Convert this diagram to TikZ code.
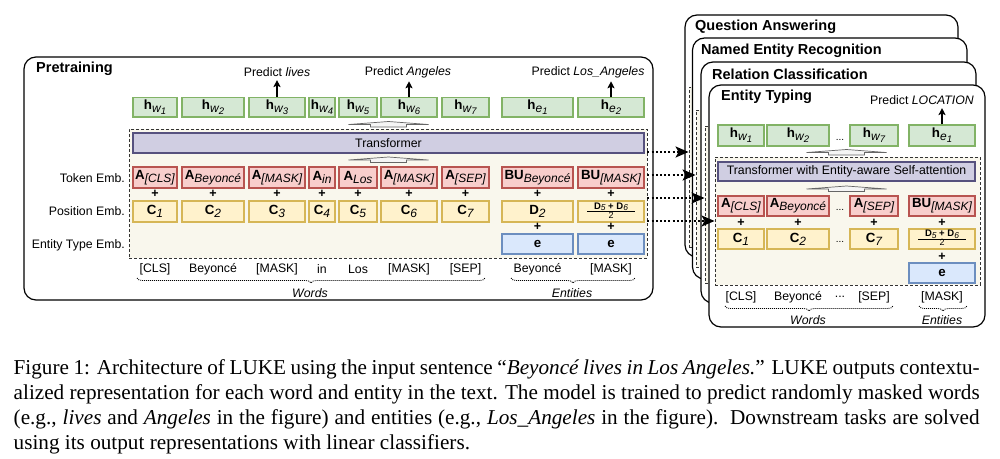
\documentclass[tikz,border=0pt]{standalone}
\usepackage{fontspec}
\setmainfont{Liberation Sans}
\newfontfamily\capfont{Liberation Serif}
\usetikzlibrary{arrows.meta,decorations.pathreplacing}
\definecolor{gfill}{HTML}{D5E8D4}\definecolor{gline}{HTML}{82B366}
\definecolor{rfill}{HTML}{F8CECC}\definecolor{rline}{HTML}{B85450}
\definecolor{yfill}{HTML}{FFF2CC}\definecolor{yline}{HTML}{D6B656}
\definecolor{bfill}{HTML}{DAE8FC}\definecolor{bline}{HTML}{6C8EBF}
\definecolor{pfill}{HTML}{D0CEE2}\definecolor{pline}{HTML}{56517E}
\definecolor{beige}{HTML}{F9F7ED}
\newcommand{\mainsz}{\fontsize{13.3}{15}\selectfont}
\newcommand{\subsz}{\fontsize{12}{13}\selectfont}
\newcommand{\sssz}{\fontsize{9.5}{10}\selectfont}
\newcommand{\lblsz}{\fontsize{12.3}{14}\selectfont}
\newcommand{\hvec}[2]{{\bfseries h}\raisebox{-3pt}{\subsz\itshape #1\raisebox{-2pt}{\sssz #2}}}
\newcommand{\embv}[2]{{\bfseries #1}\raisebox{-3pt}{\subsz\itshape #2}}
\newcommand{\fracD}{\begingroup\fontsize{8}{9}\selectfont\renewcommand{\arraystretch}{0.75}\setlength{\arrayrulewidth}{0.8pt}%
\begin{tabular}{@{\hskip7pt}c@{\hskip7pt}}{\fontsize{9.5}{9}\selectfont\bfseries D\raisebox{-1.5pt}{\mdseries\itshape\fontsize{8.5}{8}\selectfont 5} + D\raisebox{-1.5pt}{\mdseries\itshape\fontsize{8.5}{8}\selectfont 6}}\\\hline{\fontsize{9}{9}\selectfont 2}\end{tabular}\endgroup}
\newcommand{\hollowarr}[2]{\draw[fill=black!4, draw=black!60, line width=0.7pt] (#1-40,#2+3) -- (#1,#2) -- (#1+40,#2+3) -- (#1+18,#2+3) -- (#1+18,#2+5.5) -- (#1-18,#2+5.5) -- (#1-18,#2+3) -- cycle;}
\newcommand{\ddd}{...}
\begin{document}
\begin{tikzpicture}[x=1pt,y=-1pt,
  boxbase/.style={draw, line width=1.1pt, inner sep=0pt, font=\mainsz},
  gbox/.style={boxbase, fill=gfill, draw=gline},
  rbox/.style={boxbase, fill=rfill, draw=rline},
  ybox/.style={boxbase, fill=yfill, draw=yline},
  bbox/.style={boxbase, fill=bfill, draw=bline},
  pbox/.style={boxbase, fill=pfill, draw=pline, font=\lblsz},
  dbox/.style={draw=black!80, dash pattern=on 3pt off 2pt, line width=0.9pt, fill=beige, inner sep=0pt},
  cardsty/.style={draw=black, line width=1.2pt, fill=white, rounded corners=12pt, inner sep=0pt},
  ttl/.style={font=\fontsize{14.5}{16}\selectfont\bfseries, anchor=west, inner sep=0pt},
  lbl/.style={font=\lblsz},
  plussty/.style={font=\fontsize{12.5}{12}\selectfont\bfseries, inner sep=0pt},
  dotsl/.style={font=\fontsize{10}{10}\selectfont, inner sep=0pt},
  dbrace/.style={decorate, decoration={brace, mirror, amplitude=5pt}, line width=0.8pt, dash pattern=on 1pt off 1pt},
  dotarr/.style={line width=1.8pt, dash pattern=on 2pt off 2.2pt, -{Stealth[length=13pt,width=11pt,inset=3pt]}},
  predarr/.style={line width=1.3pt, -{Stealth[length=7pt,width=7pt,inset=1.5pt]}},
  capsty/.style={font=\capfont\fontsize{21.2}{25}\selectfont, anchor=base west, inner sep=0pt}
]
\useasboundingbox (0,0) rectangle (1000,458);
\fill[white] (0,0) rectangle (1000,458);

% ---------------- Pretraining ----------------
\node[cardsty, minimum width=629pt, minimum height=243pt] (pre) at (338.5,178.5) {};
\node[ttl] (pretitle) at (36,69) {Pretraining};
\node[dbox, minimum width=518pt, minimum height=129pt] (ldash) at (388,193.5) {};
\node[pbox, minimum width=511pt, minimum height=20pt] (ltr) at (388.5,143) {Transformer};
\hollowarr{388.5}{121.5}
\hollowarr{388.5}{157}

% h row
\node[gbox, minimum width=44pt, minimum height=19.5pt] (hw1) at (155,107.25) {\hvec{w}{1}};
\node[gbox, minimum width=62pt, minimum height=19.5pt] (hw2) at (213,107.25) {\hvec{w}{2}};
\node[gbox, minimum width=56pt, minimum height=19.5pt] (hw3) at (277,107.25) {\hvec{w}{3}};
\node[gbox, minimum width=26pt, minimum height=19.5pt] (hw4) at (322,107.25) {\hvec{w}{4}};
\node[gbox, minimum width=38pt, minimum height=19.5pt] (hw5) at (358,107.25) {\hvec{w}{5}};
\node[gbox, minimum width=56pt, minimum height=19.5pt] (hw6) at (409,107.25) {\hvec{w}{6}};
\node[gbox, minimum width=47pt, minimum height=19.5pt] (hw7) at (465.5,107.25) {\hvec{w}{7}};
\node[gbox, minimum width=71pt, minimum height=19.5pt] (he1) at (537.5,107.25) {\hvec{e}{1}};
\node[gbox, minimum width=66pt, minimum height=19.5pt] (he2) at (611,107.25) {\hvec{e}{2}};

% token row
\node[rbox, minimum width=44pt, minimum height=21pt] (a1) at (155,177.5) {\embv{A}{[CLS]}};
\node[rbox, minimum width=62pt, minimum height=21pt] (a2) at (213,177.5) {\embv{A}{Beyoncé}};
\node[rbox, minimum width=56pt, minimum height=21pt] (a3) at (277,177.5) {\embv{A}{[MASK]}};
\node[rbox, minimum width=26pt, minimum height=21pt] (a4) at (322,177.5) {\embv{A}{in}};
\node[rbox, minimum width=38pt, minimum height=21pt] (a5) at (358,177.5) {\embv{A}{Los}};
\node[rbox, minimum width=56pt, minimum height=21pt] (a6) at (409,177.5) {\embv{A}{[MASK]}};
\node[rbox, minimum width=47pt, minimum height=21pt] (a7) at (465.5,177.5) {\embv{A}{[SEP]}};
\node[rbox, minimum width=71pt, minimum height=21pt] (b1) at (537.5,177.5) {\embv{BU}{Beyoncé}};
\node[rbox, minimum width=66pt, minimum height=21pt] (b2) at (611,177.5) {\embv{BU}{[MASK]}};

% position row
\node[ybox, minimum width=44pt, minimum height=21pt] (p1) at (155,211.5) {\embv{C}{1}};
\node[ybox, minimum width=62pt, minimum height=21pt] (p2) at (213,211.5) {\embv{C}{2}};
\node[ybox, minimum width=56pt, minimum height=21pt] (p3) at (277,211.5) {\embv{C}{3}};
\node[ybox, minimum width=26pt, minimum height=21pt] (p4) at (322,211.5) {\embv{C}{4}};
\node[ybox, minimum width=38pt, minimum height=21pt] (p5) at (358,211.5) {\embv{C}{5}};
\node[ybox, minimum width=56pt, minimum height=21pt] (p6) at (409,211.5) {\embv{C}{6}};
\node[ybox, minimum width=47pt, minimum height=21pt] (p7) at (465.5,211.5) {\embv{C}{7}};
\node[ybox, minimum width=71pt, minimum height=21pt] (d1) at (537.5,211.5) {\embv{D}{2}};
\node[ybox, minimum width=66pt, minimum height=21pt] (d2) at (611,211.5) {\fracD};

% entity type row
\node[bbox, minimum width=71pt, minimum height=20pt] (t1) at (537.5,244) {\textbf{e}};
\node[bbox, minimum width=66pt, minimum height=20pt] (t2) at (611,244) {\textbf{e}};

\foreach \x [count=\i] in {155,213,277,322,358,409,465.5,537.5,611}
  \node[plussty] (pl\i) at (\x,194) {+};
\node[plussty] (ple1) at (537.5,227) {+};
\node[plussty] (ple2) at (611,227) {+};

% row labels
\node[lbl, anchor=east, inner sep=0pt] (ltok) at (125,178) {Token Emb.};
\node[lbl, anchor=east, inner sep=0pt] (lpos) at (125,211) {Position Emb.};
\node[lbl, anchor=east, inner sep=0pt] (lent) at (125,245) {Entity Type Emb.};

% word labels
\node[lbl] (wl1) at (155,269) {[CLS]};
\node[lbl] (wl2) at (213,269) {Beyoncé};
\node[lbl] (wl3) at (277,269) {[MASK]};
\node[lbl] (wl4) at (322,269) {in};
\node[lbl] (wl5) at (358,269) {Los};
\node[lbl] (wl6) at (409,269) {[MASK]};
\node[lbl] (wl7) at (465.5,269) {[SEP]};
\node[lbl] (wl8) at (537.5,269) {Beyoncé};
\node[lbl] (wl9) at (611,269) {[MASK]};
\draw[dbrace] (137,278) -- (485,278);
\draw[dbrace] (511,278) -- (635,278);
\node[lbl, font=\lblsz\itshape] (wordsl) at (310,293) {Words};
\node[lbl, font=\lblsz\itshape] (entsl) at (572,293) {Entities};

% predict
\node[lbl] (pr1) at (277,72) {Predict \textit{lives}};
\node[lbl] (pr2) at (408,72) {Predict \textit{Angeles}};
\node[lbl, anchor=east] (pr3) at (648,72) {Predict \textit{Los\_Angeles}};
\draw[predarr] (hw3.north) -- (hw3.north |- pr1.south);
\draw[predarr] (hw6.north) -- (hw6.north |- pr2.south);
\draw[predarr] (he2.north) -- (he2.north |- pr3.south);

% ---------------- Downstream cards ----------------
\node[cardsty, minimum width=273pt, minimum height=242pt] (card1) at (821.5,136) {};
\node[dbox, minimum width=261pt, minimum height=160pt] (cd1) at (819.5,167) {};
\node[ttl] (ct1) at (695,27) {Question Answering};
\node[cardsty, minimum width=274.5pt, minimum height=241pt] (card2) at (829.75,158.5) {};
\node[dbox, minimum width=263pt, minimum height=157pt] (cd2) at (827.5,188.5) {};
\node[ttl] (ct2) at (701,51) {Named Entity Recognition};
\node[cardsty, minimum width=275pt, minimum height=241pt] (card3) at (838.5,182.5) {};
\node[dbox, minimum width=263pt, minimum height=157pt] (cd3) at (836.5,204.5) {};
\node[ttl] (ct3) at (712,74) {Relation Classification};
\node[cardsty, minimum width=276pt, minimum height=242pt] (card4) at (847,206) {};
\node[dbox, minimum width=265pt, minimum height=128pt] (cd4) at (847.5,221) {};
\node[ttl] (ct4) at (721,97) {Entity Typing};

\node[lbl] (pr4) at (922,100) {Predict \textit{LOCATION}};
\node[gbox, minimum width=46pt, minimum height=21pt] (khw1) at (741,135.5) {\hvec{w}{1}};
\node[gbox, minimum width=62pt, minimum height=21pt] (khw2) at (798,135.5) {\hvec{w}{2}};
\node[dotsl] (kdot1) at (840,140) {\ddd};
\node[gbox, minimum width=48pt, minimum height=21pt] (khw7) at (874,135.5) {\hvec{w}{7}};
\node[gbox, minimum width=66pt, minimum height=21pt] (khe1) at (942,135.5) {\hvec{e}{1}};
\draw[predarr] (khe1.north) -- (khe1.north |- pr4.south);
\hollowarr{846.5}{149.5}
\node[pbox, minimum width=257pt, minimum height=19pt] (ktr) at (846.5,171.5) {Transformer with Entity-aware Self-attention};
\hollowarr{846.5}{186}
\node[rbox, minimum width=46pt, minimum height=20pt] (ka1) at (741,206) {\embv{A}{[CLS]}};
\node[rbox, minimum width=62pt, minimum height=20pt] (ka2) at (798,206) {\embv{A}{Beyoncé}};
\node[dotsl] (kdot2) at (840,210) {\ddd};
\node[rbox, minimum width=48pt, minimum height=20pt] (ka7) at (874,206) {\embv{A}{[SEP]}};
\node[rbox, minimum width=66pt, minimum height=20pt] (kb1) at (942,206) {\embv{BU}{[MASK]}};
\node[plussty] (kpl1) at (741,223) {+};
\node[plussty] (kpl2) at (798,223) {+};
\node[plussty] (kpl3) at (874,223) {+};
\node[plussty] (kpl4) at (942,223) {+};
\node[ybox, minimum width=46pt, minimum height=20pt] (kp1) at (741,239) {\embv{C}{1}};
\node[ybox, minimum width=62pt, minimum height=20pt] (kp2) at (798,239) {\embv{C}{2}};
\node[dotsl] (kdot3) at (840,242) {\ddd};
\node[ybox, minimum width=48pt, minimum height=20pt] (kp7) at (874,239) {\embv{C}{7}};
\node[ybox, minimum width=66pt, minimum height=20pt] (kf) at (942,239) {\fracD};
\node[plussty] (kple) at (942,257) {+};
\node[bbox, minimum width=66pt, minimum height=20pt] (kt1) at (942,273) {\textbf{e}};
\node[lbl] (kwl1) at (741,297) {[CLS]};
\node[lbl] (kwl2) at (798,297) {Beyoncé};
\node[lbl] (kwl3) at (840,297) {\ddd};
\node[lbl] (kwl4) at (874,297) {[SEP]};
\node[lbl] (kwl5) at (942,297) {[MASK]};
\draw[dbrace] (725,306) -- (893,306);
\draw[dbrace] (919,306) -- (967,306);
\node[lbl, font=\lblsz\itshape] (kwords) at (808,320) {Words};
\node[lbl, font=\lblsz\itshape] (kents) at (942,320) {Entities};

% ---------------- connectors ----------------
\draw[dotarr] (ldash.east |- 0,152) -- (cd1.west |- 0,152);
\draw[dotarr] (ldash.east |- 0,175) -- (cd2.west |- 0,175);
\draw[dotarr] (ldash.east |- 0,198) -- (cd3.west |- 0,198);
\draw[dotarr] (ldash.east |- 0,221) -- (cd4.west |- 0,221);

% ---------------- caption ----------------
\node[capsty] (cap1) at (13.5,374) {\hbox to 966pt{Figure 1: Architecture of LUKE using the input sentence “\textit{Beyoncé lives in Los Angeles.}” LUKE outputs contextu-}};
\node[capsty] (cap2) at (13.5,399) {\hbox to 966pt{alized representation for each word and entity in the text. The model is trained to predict randomly masked words}};
\node[capsty] (cap3) at (13.5,424) {\hbox to 966pt{(e.g., \textit{lives} and \textit{Angeles} in the figure) and entities (e.g., \textit{Los\_Angeles} in the figure).\ \ Downstream tasks are solved}};
\node[capsty] (cap4) at (13.5,449) {using its output representations with linear classifiers.};
\end{tikzpicture}
\end{document}
